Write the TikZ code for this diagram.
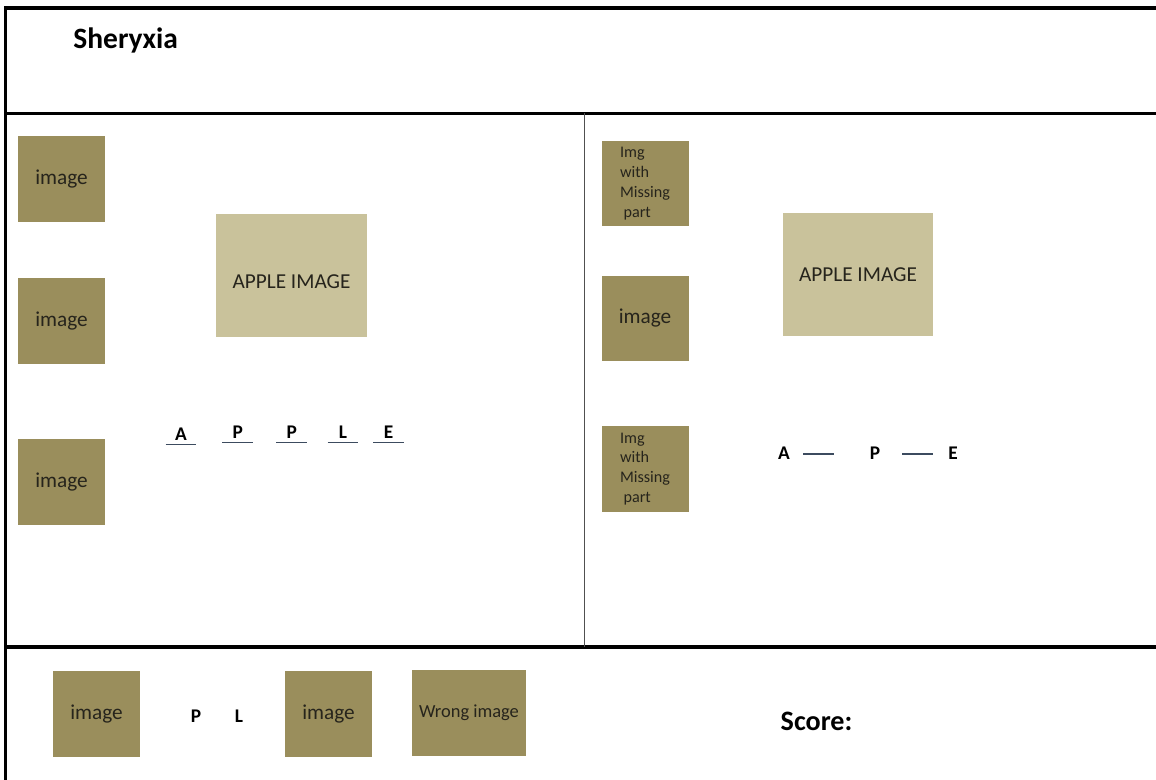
\documentclass[tikz,border=0pt]{standalone}
\usepackage{fontspec}
\setmainfont{Carlito}
\usetikzlibrary{positioning}
\definecolor{Olive}{RGB}{154,142,92}
\definecolor{Sand}{RGB}{201,194,155}
\definecolor{Ink}{RGB}{38,36,28}
\definecolor{Rule}{RGB}{80,80,80}
\definecolor{Slate}{RGB}{60,75,95}

\begin{document}
\begin{tikzpicture}[x=.02cm,y=-.02cm,
  imgbox/.style={fill=Olive,minimum width=1.74cm,minimum height=1.72cm,inner sep=0,text=Ink,font=\fontsize{12.1}{14}\selectfont},
  missbox/.style={imgbox,align=left,font=\fontsize{9.2}{11.3}\selectfont},
  applebox/.style={fill=Sand,minimum width=3.02cm,minimum height=2.46cm,inner sep=0,text=Ink,font=\fontsize{12.1}{14}\selectfont},
  letter/.style={inner sep=0,font=\fontsize{11}{13}\selectfont\bfseries},
  slot/.style={letter,anchor=south,minimum width=.6cm,inner ysep=2pt},
  under/.style={draw=Slate,line width=.6pt},
  frame/.style={line width=2.2pt},
  divider/.style={draw=Rule,line width=1.1pt}]
\useasboundingbox (0,0) rectangle (1156,780);
% frame and panels
\coordinate (tl) at (5.5,8); \coordinate (tr) at (1156,8); \coordinate (bl) at (5.5,780);
\coordinate (h1l) at (5.5,113.5); \coordinate (h1r) at (1156,113.5);
\coordinate (h2l) at (5.5,647); \coordinate (h2r) at (1156,647);
\coordinate (vt) at (584.5,113.5); \coordinate (vb) at (584.5,647);
\draw[frame] (tr)--(tl)--(bl); \draw[frame] (h1l)--(h1r); \draw[frame] (h2l)--(h2r);
\draw[divider] (vt)--(vb);
\node[anchor=base west,inner sep=0,font=\fontsize{16.8}{20}\selectfont\bfseries] (title) at (73,49) {Sheryxia};
% left panel
\node[imgbox] (img1) at (61.5,179) {image};
\node[imgbox,below=1.1cm of img1] (img2) {image};
\node[imgbox,below=1.5cm of img2] (img3) {image};
\node[applebox,text height=14.5pt] (apple1) at (291.5,275.5) {APPLE IMAGE};
\node[slot] (s1) at (181,444.3) {A};
\node[slot] (s2) at (237.7,442.3) {P};
\node[slot] (s3) at (291.7,442.3) {P};
\node[slot] (s4) at (343,442.3) {L};
\node[slot] (s5) at (388.5,442.3) {E};
\draw[under] (s1.south west)--(s1.south east); \draw[under] (s2.south west)--(s2.south east); \draw[under] (s3.south west)--(s3.south east); \draw[under] (s4.south west)--(s4.south east); \draw[under] (s5.south west)--(s5.south east);
% right panel
\node[missbox] (miss1) at (645,183.5) {Img\\with\\Missing\\\hspace*{2pt}part};
\node[imgbox] (img4) at (645,318.5) {image};
\node[missbox] (miss2) at (645,469) {Img\\with\\Missing\\\hspace*{2pt}part};
\node[applebox] (apple2) at (858,274.5) {APPLE IMAGE};
\node[letter] (rA) at (784,453) {A};
\node[letter] (rP) at (875,453) {P};
\node[letter] (rE) at (953,453) {E};
\coordinate (g1a) at (803,454); \coordinate (g1b) at (834,454);
\coordinate (g2a) at (902,454); \coordinate (g2b) at (933,454);
\draw[under] (g1a)--(g1b); \draw[under] (g2a)--(g2b);
% bottom bar
\node[imgbox] (img5) at (96.5,714) {image};
\node[letter] (bP) at (196,716) {P};
\node[letter] (bL) at (239,716) {L};
\node[imgbox] (img6) at (328.5,714) {image};
\node[imgbox,minimum width=2.28cm,font=\fontsize{10.5}{12}\selectfont] (wrong) at (469,713) {Wrong image};
\node[anchor=base,inner sep=0,font=\fontsize{16}{19}\selectfont\bfseries] (score) at (816.5,730) {Score:};
\end{tikzpicture}
\end{document}
